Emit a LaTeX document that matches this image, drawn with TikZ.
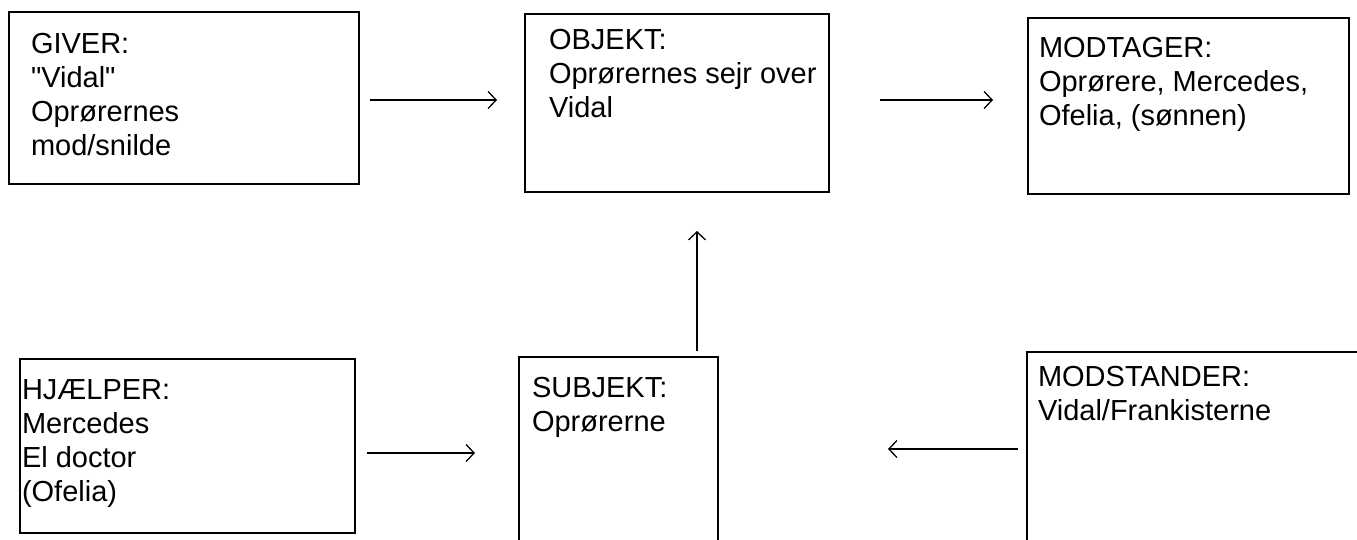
\documentclass[tikz,border=0pt]{standalone}
\usepackage{fontspec}
\setmainfont{Liberation Sans}
\usetikzlibrary{arrows.meta,calc}
\begin{document}
\begin{tikzpicture}[x=1pt,y=-1pt,
  box/.style={draw, line width=1.6pt, inner sep=0pt, outer sep=0pt, anchor=north west},
  txt/.style={inner sep=0pt, outer sep=0pt, anchor=north west, align=left,
    font=\fontsize{29}{34}\selectfont},
  arr/.style={line width=1.3pt, -{Straight Barb[length=8pt,width=17pt,line width=1.3pt]}}]
\useasboundingbox (0,0) rectangle (1357,540);
% boxes
\node[box, minimum width=350pt, minimum height=172pt] (giver) at (9,12) {};
\node[box, minimum width=304pt, minimum height=178pt] (objekt) at (525,14) {};
\node[box, minimum width=321pt, minimum height=176pt] (modtager) at (1028,18) {};
\node[box, minimum width=335pt, minimum height=174pt] (hjaelper) at (20,359) {};
\node[box, minimum width=199pt, minimum height=200pt] (subjekt) at (519,357) {};
\node[box, minimum width=340pt, minimum height=200pt] (modstander) at (1027,352) {};
% texts
\node[txt] (giverT) at (31,33) {GIVER:\\\textquotedbl Vidal\textquotedbl\\Oprørernes\\mod/snilde};
\node[txt] (objektT) at (549,29) {OBJEKT:\\Oprørernes sejr over\\Vidal};
\node[txt] (modtagerT) at (1039,37) {MODTAGER:\\Oprørere, Mercedes,\\Ofelia, (sønnen)};
\node[txt] (hjaelperT) at (22,380) {HJÆLPER:\\Mercedes\\El doctor\\(Ofelia)};
\node[txt] (subjektT) at (532,377) {SUBJEKT:\\Oprørerne};
\node[txt] (modstanderT) at (1038,366) {MODSTANDER:\\Vidal/Frankisterne};
% connectors
\draw[arr] ($(giver.east)+(11,2)$) -- ($(giver.east -| objekt.west)+(-28,2)$);
\draw[arr] ($(objekt.east)+(51,-3)$) -- ($(objekt.east -| modtager.west)+(-35,-3)$);
\draw[arr] ($(subjekt.north)+(78.5,-6)$) -- ($(subjekt.north |- objekt.south)+(78.5,39)$);
\draw[arr] ($(hjaelper.east)+(12,7)$) -- ($(hjaelper.east -| subjekt.west)+(-44,7)$);
\draw[arr] ($(modstander.west)+(-9,-3)$) -- ($(modstander.west -| subjekt.east)+(170,-3)$);
\end{tikzpicture}
\end{document}
